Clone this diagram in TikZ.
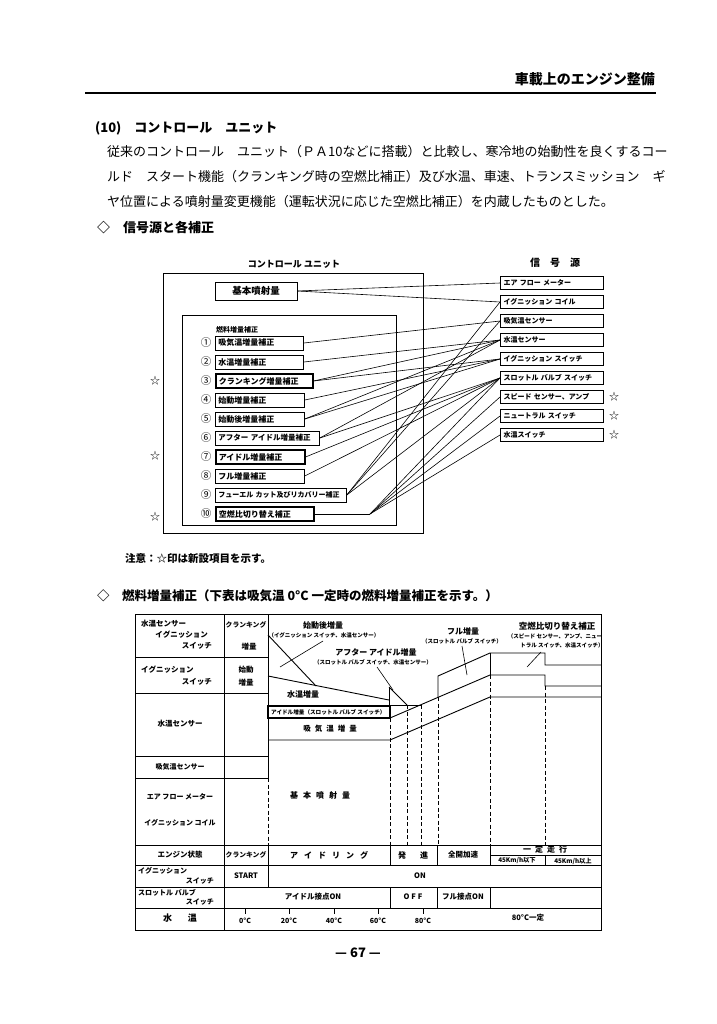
\documentclass[tikz,border=0pt]{standalone}
\usepackage{fontspec}
\setmainfont{Noto Sans CJK JP}
\newcommand\myfs[1]{\fontsize{#1}{#1}\selectfont}
\newcommand\mysp{\hspace{4pt}}
\begin{document}
\begin{tikzpicture}[x=1pt,y=-1pt,
  ibox/.style={draw, line width=0.8pt, inner xsep=3pt, inner ysep=0pt, minimum height=14pt, anchor=west, align=left, font=\myfs{8}\bfseries},
  nbox/.style={ibox, line width=1.5pt},
  sbox/.style={draw, line width=1pt, inner xsep=3pt, inner ysep=0pt, minimum height=13.5pt, anchor=west, text width=97pt, align=left, font=\myfs{7}\bfseries},
  conn/.style={line width=0.6pt},
  num/.style={font=\myfs{10.5}},
  star/.style={font=\myfs{10}},
  frame/.style={line width=0.9pt},
  chart/.style={line width=0.9pt},
  dsh/.style={line width=0.8pt, dash pattern=on 4pt off 2.5pt},
  tl/.style={font=\myfs{7.5}\bfseries, inner sep=0pt},
  sm/.style={font=\myfs{5.5}\bfseries, inner sep=0pt},
  ttl/.style={font=\myfs{8}\bfseries, inner sep=0pt},
  body/.style={anchor=west, font=\myfs{13}, inner sep=0pt},
  lead/.style={line width=0.6pt}
]
\useasboundingbox (0,0) rectangle (716,1024);
\fill[white] (0,0) rectangle (716,1024);

% ---------- header ----------
\node[anchor=east, font=\myfs{14}\bfseries, inner sep=0pt] (hdr) at (655,79) {車載上のエンジン整備};
\draw[line width=1.8pt] (85,93) -- (656,93);

\node[body, font=\myfs{13}\bfseries] (t10) at (95,128) {(10)　コントロール　ユニット};
\node[body] (p1) at (107,152) {従来のコントロール　ユニット（ＰＡ10などに搭載）と比較し、寒冷地の始動性を良くするコー};
\node[body] (p2) at (107,177) {ルド　スタート機能（クランキング時の空燃比補正）及び水温、車速、トランスミッション　ギ};
\node[body] (p3) at (107,202) {ヤ位置による噴射量変更機能（運転状況に応じた空燃比補正）を内蔵したものとした。};
\node[body, font=\myfs{13}\bfseries] (h1) at (97,228) {◇　信号源と各補正};

% ---------- upper diagram ----------
\node[font=\myfs{9}\bfseries, inner sep=0pt] (cuT) at (294,264) {コントロール ユニット};
\draw[frame] (163,273) rectangle (423,533);
\draw[frame] (182,315) rectangle (396,525);
\node[draw, line width=1pt, minimum width=82pt, minimum height=18pt, inner sep=0pt, font=\myfs{9.5}\bfseries] (kb) at (256,291) {基本噴射量};
\node[anchor=west, font=\myfs{7}\bfseries, inner sep=0pt] (nl) at (216,330) {燃料増量補正};

\foreach \i/\y/\n in {1/343/①,2/362/②,3/381/③,4/400/④,5/419/⑤,6/438/⑥,7/457/⑦,8/476/⑧,9/495/⑨,10/514/⑩}
  \node[num] (n\i) at (206,\y) {\n};

\node[ibox, text width=82pt] (c1) at (215,343) {吸気温増量補正};
\node[ibox, text width=82pt] (c2) at (215,362) {水温増量補正};
\node[nbox, text width=91pt] (c3) at (215,381) {クランキング増量補正};
\node[ibox, text width=83pt] (c4) at (215,400) {始動増量補正};
\node[ibox, text width=83pt] (c5) at (215,419) {始動後増量補正};
\node[ibox, text width=98pt, font=\myfs{7.5}\bfseries] (c6) at (215,438) {アフター アイドル増量補正};
\node[nbox, text width=83pt] (c7) at (215,457) {アイドル増量補正};
\node[ibox, text width=83pt] (c8) at (215,476) {フル増量補正};
\node[ibox, text width=125pt, font=\myfs{7}\bfseries] (c9) at (215,495) {フューエル カット及びリカバリー補正};
\node[nbox, text width=92pt] (c10) at (215,514) {空燃比切り替え補正};

\node[star] (st1) at (155,381) {☆};
\node[star] (st2) at (155,456) {☆};
\node[star] (st3) at (155,517) {☆};

\node[font=\myfs{10}\bfseries, inner sep=0pt] (sgT) at (555,263) {信　号　源};
\node[sbox] (s1) at (500,283) {エア フロー メーター};
\node[sbox] (s2) at (500,302) {イグニッション コイル};
\node[sbox] (s3) at (500,321) {吸気温センサー};
\node[sbox] (s4) at (500,340) {水温センサー};
\node[sbox] (s5) at (500,359) {イグニッション スイッチ};
\node[sbox] (s6) at (500,378) {スロットル バルブ スイッチ};
\node[sbox] (s7) at (500,397) {スピード センサー、アンプ};
\node[sbox] (s8) at (500,416) {ニュートラル スイッチ};
\node[sbox] (s9) at (500,435) {水温スイッチ};
\node[star] (st4) at (614,397) {☆};
\node[star] (st5) at (614,416) {☆};
\node[star] (st6) at (614,435) {☆};

\coordinate (k10) at (370,514);
\draw[conn] (kb.east) -- (s1.west);
\draw[conn] (kb.east) -- (s2.west);
\draw[conn] (c1.east) -- (s3.west);
\draw[conn] (c2.east) -- (s4.west);
\draw[conn] (c3.east) -- (s4.west);
\draw[conn] (c3.east) -- (s5.west);
\draw[conn] (c4.east) -- (s5.west);
\draw[conn] (c5.east) -- (s5.west);
\draw[conn] (c5.east) -- (s4.west);
\draw[conn] (c6.east) -- (s4.west);
\draw[conn] (c6.east) -- (s6.west);
\draw[conn] (c7.east) -- (s6.west);
\draw[conn] (c8.east) -- (s6.west);
\draw[conn] (c9.east) -- (s2.west);
\draw[conn] (c9.east) -- (s3.west);
\draw[conn] (c9.east) -- (s6.west);
\draw[conn] (c10.east) -- (k10);
\draw[conn] (k10) -- (s6.west);
\draw[conn] (k10) -- (s7.west);
\draw[conn] (k10) -- (s8.west);
\draw[conn] (k10) -- (s9.west);

\node[anchor=west, font=\myfs{10.5}\bfseries, inner sep=0pt] (note) at (125,558) {注意：☆印は新設項目を示す。};
\node[anchor=west, font=\myfs{12.5}\bfseries, inner sep=0pt] (h2) at (97,596) {◇　燃料増量補正（下表は吸気温 0°C 一定時の燃料増量補正を示す。）};

% ---------- lower table ----------
\draw[line width=1pt] (135,614) rectangle (601,930);
\draw[frame] (135,657) -- (268,657);
\draw[frame] (135,693) -- (268,693);
\draw[frame] (135,756) -- (268,756);
\draw[frame] (135,778) -- (268,778);
\draw[frame] (135,845) -- (601,845);
\draw[frame] (490,855) -- (601,855);
\draw[frame] (135,865) -- (601,865);
\draw[frame] (135,887) -- (601,887);
\draw[frame] (135,908) -- (601,908);
\draw[frame] (224,614) -- (224,930);
\draw[frame] (268,614) -- (268,778);
\draw[dsh] (268,778) -- (268,845);
\draw[frame] (268,845) -- (268,887);
\foreach \x in {390,437,490} {
  \draw[frame] (\x,845) -- (\x,865);
  \draw[frame] (\x,887) -- (\x,908);
}
\draw[frame] (545,855) -- (545,865);
\foreach \x in {245,289,334,378,423}
  \draw[frame] (\x,908) -- (\x,914);

% left labels
\node[tl, anchor=west] (l1a) at (141,624) {水温センサー};
\node[tl, anchor=east] (l1b) at (208,635) {イグニッション};
\node[tl, anchor=east] (l1c) at (212,646) {スイッチ};
\node[tl, anchor=west] (l2a) at (141,670) {イグニッション};
\node[tl, anchor=east] (l2b) at (212,682) {スイッチ};
\node[tl] (l3) at (180,724) {水温センサー};
\node[tl, font=\myfs{7}\bfseries] (l4) at (180,767) {吸気温センサー};
\node[tl, font=\myfs{7}\bfseries] (l5a) at (180,797) {エア フロー メーター};
\node[tl, font=\myfs{7}\bfseries] (l5b) at (180,823) {イグニッション コイル};
\node[tl, font=\myfs{6.8}\bfseries] (m1a) at (246,625) {クランキング};
\node[tl] (m1b) at (249,647) {増量};
\node[tl] (m2a) at (246,670) {始動};
\node[tl] (m2b) at (246,683) {増量};

% chart
\draw[chart] (268,740) -- (390,740) -- (490,697) -- (601,697);
\draw[chart] (390,718) -- (490,675) -- (545,675) -- (545,686) -- (601,686);
\draw[chart] (438,697) -- (438,676) -- (490,653) -- (545,653) -- (545,665) -- (601,665);
\draw[chart] (490,653) -- (490,675);
\draw[line width=1.3pt] (268,706) rectangle (390,718);
\node[sm, anchor=west, font=\myfs{5.6}\bfseries] (idl) at (271,712) {アイドル増量（スロットル バルブ スイッチ）};
\draw[chart] (389,687) -- (407,705);
\draw[chart] (389,687) -- (389,706);
\draw[chart] (390,705) -- (421,705);
\draw[chart] (268,676) -- (389,700);
\draw[chart] (268,635) -- (316,686);
\draw[dsh] (390,718) -- (390,845);
\draw[dsh] (407,705) -- (407,845);
\draw[dsh] (421,705) -- (421,845);
\draw[dsh] (438,697) -- (438,845);
\draw[dsh] (490,675) -- (490,845);
\draw[dsh] (545,686) -- (545,845);

\node[ttl] (a1) at (323,625) {始動後増量};
\node[sm] (a2) at (324,635) {（イグニッション スイッチ、水温センサー）};
\coordinate (a3) at (323,641);
\coordinate (a4) at (280,667);
\draw[lead] (a3) -- (a4);
\node[ttl] (b1) at (376,652) {アフター アイドル増量};
\node[sm] (b2) at (373,662) {（スロットル バルブ スイッチ、水温センサー）};
\coordinate (b3) at (377,667);
\coordinate (b4) at (393,690);
\draw[lead] (b3) -- (b4);
\node[ttl] (f1) at (463,631) {フル増量};
\node[sm] (f2) at (462,641) {（スロットル バルブ スイッチ）};
\coordinate (f3) at (462,646);
\coordinate (f4) at (467,675);
\draw[lead] (f3) -- (f4);
\node[ttl, font=\myfs{8.5}\bfseries] (g1) at (557,626) {空燃比切り替え補正};
\node[sm] (g2) at (555,636) {（スピード センサー、アンプ、ニュー};
\node[sm] (g3) at (562,645) {トラル スイッチ、水温スイッチ）};
\coordinate (g4) at (541,652);
\coordinate (g5) at (527,667);
\draw[lead] (g4) -- (g5);
\node[ttl] (w1) at (303,694) {水温増量};
\node[tl] (w2) at (330,729) {吸\mysp 気\mysp 温\mysp 増\mysp 量};
\node[ttl] (w3) at (320,795) {基\hspace{5pt}本\hspace{5pt}噴\hspace{5pt}射\hspace{5pt}量};

% bottom rows
\node[tl] (e0) at (180,855) {エンジン状態};
\node[tl, font=\myfs{6.8}\bfseries] (e1) at (246,855) {クランキング};
\node[ttl] (e2) at (329,855) {ア\hspace{6pt}イ\hspace{6pt}ド\hspace{6pt}リ\hspace{6pt}ン\hspace{6pt}グ};
\node[ttl] (e3) at (413,855) {発\hspace{14pt}進};
\node[tl] (e4) at (463,855) {全開加速};
\node[ttl] (e5) at (545,849) {一\hspace{4pt}定\hspace{4pt}走\hspace{4pt}行};
\node[sm, font=\myfs{6.3}\bfseries] (e6) at (517,861) {45Km/h以下};
\node[sm, font=\myfs{6.3}\bfseries] (e7) at (573,861) {45Km/h以上};
\node[tl, anchor=west, font=\myfs{7}\bfseries] (i1) at (138,871) {イグニッション};
\node[tl, anchor=east, font=\myfs{7}\bfseries] (i2) at (214,881) {スイッチ};
\node[tl] (i3) at (246,876) {START};
\node[tl] (i4) at (420,876) {ON};
\node[tl, anchor=west, font=\myfs{7}\bfseries] (r1) at (138,893) {スロットル バルブ};
\node[tl, anchor=east, font=\myfs{7}\bfseries] (r2) at (214,902) {スイッチ};
\node[tl] (r3) at (313,897) {アイドル接点ON};
\node[tl] (r4) at (413,897) {O\hspace{2pt}F\hspace{2pt}F};
\node[tl] (r5) at (463,897) {フル接点ON};
\node[font=\myfs{9}\bfseries, inner sep=0pt] (v0) at (180,918) {水\hspace{16pt}温};
\node[tl, font=\myfs{7}\bfseries] (v1) at (245,921) {0°C};
\node[tl, font=\myfs{7}\bfseries] (v2) at (289,921) {20°C};
\node[tl, font=\myfs{7}\bfseries] (v3) at (334,921) {40°C};
\node[tl, font=\myfs{7}\bfseries] (v4) at (378,921) {60°C};
\node[tl, font=\myfs{7}\bfseries] (v5) at (423,921) {80°C};
\node[tl] (v6) at (528,918) {80°C一定};

\node[font=\myfs{13}\bfseries, inner sep=0pt] (pg) at (358,953) {— 67 —};
\end{tikzpicture}
\end{document}
